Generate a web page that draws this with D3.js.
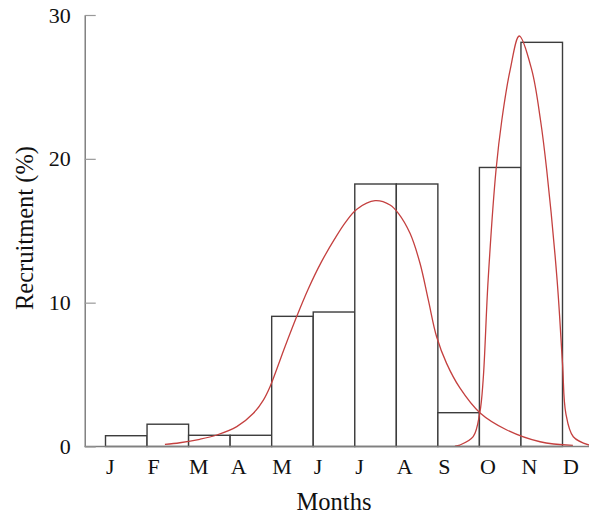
<!DOCTYPE html>
<html>
<head>
  <meta charset="utf-8">
  <title>Recruitment by month</title>
  <script src="https://d3js.org/d3.v7.min.js"></script>
  <style>
    body { margin: 0; background: #fff; }
    text { font-family: "Liberation Serif", "Times New Roman", serif; fill: #111; }
  </style>
</head>
<body>
<div id="chart"></div>
<script>
// monthly recruitment (%)
var months = ["J", "F", "M", "A", "M", "J", "J", "A", "S", "O", "N", "D"];
var recruitment = [0.75, 1.55, 0.78, 0.78, 9.05, 9.35, 18.25, 18.25, 2.35, 19.4, 28.1, 0];
var yTicks = [0, 10, 20, 30];

// fitted curves, points: [month position, recruitment]
var curveSummer = [
  [1.43, 0.15], [1.79, 0.26], [2.27, 0.5], [2.68, 0.8], [3.16, 1.38], [3.56, 2.31],
  [3.8, 3.23], [3.96, 4.16], [4.32, 6.94], [4.6, 9.02], [4.88, 10.95], [5.2, 12.85],
  [5.52, 14.45], [5.78, 15.6], [6.05, 16.5], [6.49, 17.09], [6.85, 16.79], [7.05, 16.21],
  [7.33, 14.82], [7.57, 12.74], [7.77, 10.19], [7.97, 7.63], [8.21, 5.78],
  [8.53, 4.07], [9.01, 2.35], [9.66, 1.15], [10.46, 0.33], [11.25, 0.08]
];
var curveAutumn = [
  [8.41, 0.03], [8.53, 0.1], [8.85, 0.68], [9.01, 2.35], [9.09, 4.62], [9.21, 11.58],
  [9.4, 19.22], [9.54, 22.7], [9.74, 26.18], [9.96, 28.54], [10.26, 26.18],
  [10.47, 22.7], [10.62, 19.22], [10.87, 11.58], [11.0, 5.78], [11.08, 2.31],
  [11.26, 0.68], [11.64, 0.1]
];

var W = 589, H = 514;

var svg = d3.select("#chart")
  .append("svg")
    .attr("width", W)
    .attr("height", H);

var x = d3.scaleLinear().domain([0, 11]).range([105.5, 562.5]);
var y = d3.scaleLinear().domain([0, 30]).range([446.5, 15]);
var bw = x(1) - x(0);

// bars
svg.selectAll("rect.bar")
  .data(recruitment.filter(function(d) { return d > 0; }))
  .enter()
  .append("rect")
    .attr("class", "bar")
    .attr("x", function(d, i) { return x(i); })
    .attr("y", function(d) { return y(d); })
    .attr("width", bw)
    .attr("height", function(d) { return y(0) - y(d); })
    .attr("fill", "#fff")
    .attr("stroke", "#3c3c3c")
    .attr("stroke-width", 1.4);

// curves
var line = d3.line()
  .x(function(d) { return x(d[0]); })
  .y(function(d) { return y(d[1]); })
  .curve(d3.curveCatmullRom.alpha(0.5));

[curveSummer, curveAutumn].forEach(function(c) {
  svg.append("path")
    .attr("d", line(c))
    .attr("fill", "none")
    .attr("stroke", "#c4403f")
    .attr("stroke-width", 1.3);
});

// x axis line
svg.append("line")
  .attr("x1", x(-0.5)).attr("x2", W)
  .attr("y1", y(0)).attr("y2", y(0))
  .attr("stroke", "#808080")
  .attr("stroke-width", 1.5);

// month labels
svg.selectAll("text.month")
  .data(months)
  .enter()
  .append("text")
    .attr("class", "month")
    .attr("x", function(d, i) { return x(i) + 0.5; })
    .attr("y", 474)
    .attr("text-anchor", "start")
    .style("font-size", "22px")
    .text(function(d) { return d; });

// y axis, ticks pointing inward
var yAxis = svg.append("g")
  .attr("transform", "translate(" + x(-0.5) + ",0)")
  .call(d3.axisLeft(y).tickValues(yTicks).tickSizeInner(-11).tickSizeOuter(0).tickPadding(14));
yAxis.select(".domain").attr("stroke", "#808080").attr("stroke-width", 1.5);
yAxis.selectAll(".tick line").attr("stroke", "#999").attr("stroke-width", 1.2);
yAxis.selectAll(".tick text")
  .style("font-size", "22px")
  .style("font-family", "Liberation Serif, serif")
  .attr("fill", "#111");

// axis titles
svg.append("text")
  .attr("x", 334)
  .attr("y", 510)
  .attr("text-anchor", "middle")
  .style("font-size", "24.5px")
  .text("Months");

svg.append("text")
  .attr("transform", "translate(33,228) rotate(-90)")
  .attr("text-anchor", "middle")
  .style("font-size", "24.5px")
  .text("Recruitment (%)");
</script>
</body>
</html>
